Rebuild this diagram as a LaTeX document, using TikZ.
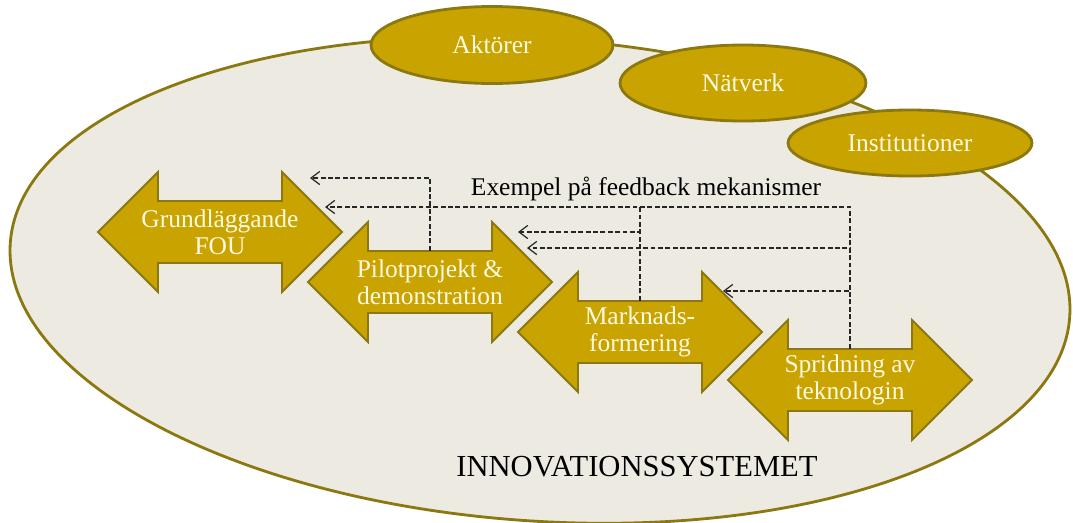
\documentclass[tikz,border=0pt]{standalone}
\usepackage{fontspec}
\setmainfont{Liberation Serif}
\usetikzlibrary{arrows.meta,shapes.geometric}

\definecolor{gold}{HTML}{C9A400}
\definecolor{goldedge}{HTML}{8C7810}
\definecolor{paper}{HTML}{ECEAE1}
\definecolor{cream}{HTML}{FFF9E3}

\tikzset{
  pill/.style={ellipse, fill=gold, draw=goldedge, line width=1.6pt, inner sep=0pt,
    text=cream, font=\fontsize{14.5}{17}\selectfont},
  stagebody/.style={fill=gold, draw=goldedge, line width=1.1pt, line join=miter},
  stagelabel/.style={text=cream, align=center, inner sep=0pt, minimum height=1.24cm,
    font=\fontsize{14.5}{15.3}\selectfont},
  fbline/.style={draw=black!85, line width=0.7pt, dash pattern=on 2.8pt off 1.4pt},
  fbarrow/.style={fbline, -{Straight Barb[length=5pt,width=7.5pt]}}
}

% two-headed stage arrow: name, centre, label
\newcommand{\stagearrow}[3]{%
  \path[stagebody, shift={(#2)}]
    (-122,0) -- (-62,-60) -- (-62,-31) -- (62,-31) -- (62,-60) -- (122,0)
    -- (62,60) -- (62,31) -- (-62,31) -- (-62,60) -- cycle;
  \node[stagelabel] (#1) at (#2) {#3};
}

\begin{document}
\begin{tikzpicture}[x=0.02cm, y=-0.02cm]
  \fill[white] (0,0) rectangle (1073,522);
  \useasboundingbox (0,0) rectangle (1073,522);

  % the innovation system
  \draw[shift={(540,280)}, rotate=-4, fill=paper, draw=goldedge, line width=1.6pt]
    (0,0) ellipse [x radius=531, y radius=241];

  % system components on the rim
  \node[pill, minimum width=4.84cm, minimum height=1.54cm] (akt) at (492,45) {Aktörer};
  \node[pill, minimum width=4.92cm, minimum height=1.52cm] (nat) at (743,83) {Nätverk};
  \node[pill, minimum width=4.88cm, minimum height=1.32cm] (inst) at (910,143) {Institutioner};

  % development stages
  \stagearrow{grund}{220,232}{Grundläggande\\FOU}
  \stagearrow{pilot}{430,282}{Pilotprojekt \&\\demonstration}
  \stagearrow{markn}{640,332}{Marknads-\\formering}
  \stagearrow{sprid}{850,380}{Spridning av\\teknologin}

  % feedback targets
  \coordinate (fbA) at (310,178);
  \coordinate (fbB) at (325,207);
  \coordinate (fbC) at (518,232);
  \coordinate (fbD) at (527,248);
  \coordinate (fbE) at (723,291);

  % feedback loops
  \draw[fbarrow] (pilot.north) |- (fbA);
  \draw[fbarrow] (sprid.north) |- (fbB);
  \draw[fbarrow] (sprid.north) |- (fbD);
  \draw[fbarrow] (sprid.north) |- (fbE);
  \draw[fbarrow] (markn.north) |- (fbC);
  \draw[fbline] (markn.north) -- (markn.north |- fbB);

  \node[font=\fontsize{14.5}{17}\selectfont] (fbnote) at (646,189) {Exempel på feedback mekanismer};
  \node[font=\fontsize{17.4}{20}\selectfont] (sys) at (637,467) {INNOVATIONSSYSTEMET};
\end{tikzpicture}
\end{document}
